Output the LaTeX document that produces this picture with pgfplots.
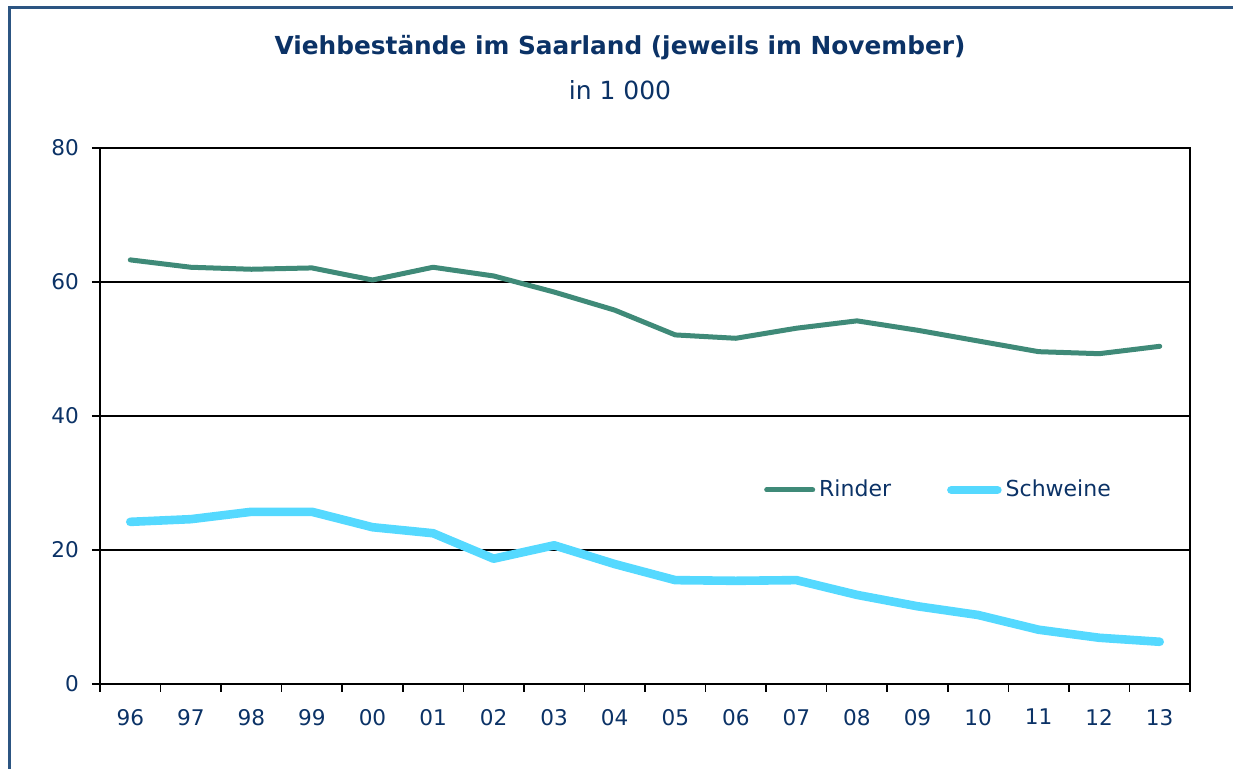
\documentclass[border=0pt]{standalone}
\usepackage{pgfplots}
\pgfplotsset{compat=1.18}
\usepackage{fontspec}
\setmainfont{DejaVu Sans}
\definecolor{txtblue}{HTML}{0B3266}
\definecolor{frameblue}{HTML}{2C5582}
\definecolor{rinder}{HTML}{3F8A78}
\definecolor{schweine}{HTML}{55D9FF}
\begin{document}
\begin{tikzpicture}[x=0.5pt,y=0.5pt]
\useasboundingbox (0,0) rectangle (1233,769);
\draw[frameblue,line width=1.5pt] (9,0) -- (9,761) -- (1233,761);
\node[txtblue,font=\bfseries\fontsize{12.4}{14}\selectfont] at (620,721) {Viehbestände im Saarland (jeweils im November)};
\node[txtblue,font=\fontsize{12.5}{15}\selectfont] at (620,679) {in 1 000};
\begin{axis}[
  at={(50pt,42.5pt)}, anchor=south west,
  scale only axis, width=545pt, height=268pt,
  xmin=-0.5, xmax=17.5, ymin=0, ymax=80,
  xtick={0,...,17},
  xticklabels={96,97,98,99,00,01,02,03,04,05,06,07,08,09,10,11,12,13},
  minor xtick={-0.5,0.5,...,17.5},
  ytick={0,20,40,60,80},
  xtick pos=bottom, ytick pos=left,
  tick align=outside,
  major x tick style={draw=none},
  minor tick length=4pt, major tick length=4pt,
  tick style={black, line width=0.8pt},
  ymajorgrids, grid style={black, line width=0.6pt},
  axis line style={black, line width=1pt},
  ticklabel style={txtblue, font=\fontsize{10.8}{12}\selectfont},
  /pgf/number format/assume math mode=true,
  xticklabel style={yshift=-5pt},
  yticklabel style={xshift=-3pt},
  legend style={at={(0.609,0.362)}, anchor=west, draw=none, fill=none,
    font=\fontsize{11}{13}\selectfont, text=txtblue,
    /tikz/every even column/.append style={column sep=26pt},
    inner sep=0pt},
  legend columns=2,
  legend image code/.code={\draw[#1, line cap=round] (0pt,0pt) -- (23pt,0pt);},
  legend cell align=left,
  every axis plot/.append style={line join=round, line cap=round},
]
\addplot[rinder, line width=2.5pt] coordinates {
(0,63.3) (1,62.2) (2,61.9) (3,62.1) (4,60.3) (5,62.2) (6,60.9) (7,58.5) (8,55.8)
(9,52.1) (10,51.6) (11,53.1) (12,54.2) (13,52.8) (14,51.2) (15,49.6) (16,49.3) (17,50.4)};
\addlegendentry{Rinder}
\addplot[schweine, line width=4.3pt] coordinates {
(0,24.2) (1,24.6) (2,25.7) (3,25.7) (4,23.4) (5,22.5) (6,18.7) (7,20.7) (8,17.9)
(9,15.5) (10,15.4) (11,15.5) (12,13.3) (13,11.6) (14,10.3) (15,8.1) (16,6.9) (17,6.3)};
\addlegendentry{Schweine}
\end{axis}
\end{tikzpicture}
\end{document}
